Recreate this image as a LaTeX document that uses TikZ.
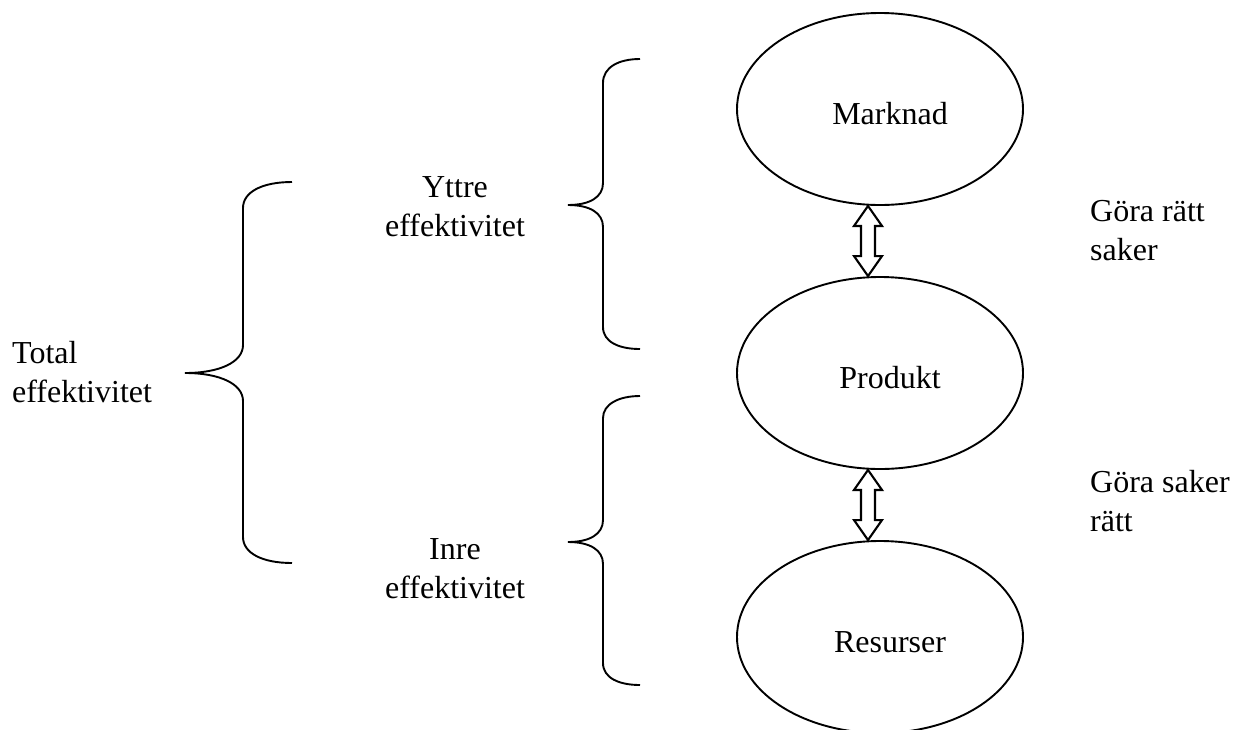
\documentclass[tikz,border=0pt]{standalone}
\usepackage{fontspec}
\setmainfont{Liberation Serif}
\usetikzlibrary{shapes.geometric,calc}

\tikzset{
  oval/.style={ellipse, draw, line width=1.9pt, minimum width=286pt, minimum height=192pt,
    inner sep=0pt, text height=30pt, text depth=0pt, execute at begin node=\hspace*{20pt}},
  brace/.style={line width=1.9pt},
  twoway/.style={draw, fill=white, line width=2.1pt, line join=miter},
  caption/.style={inner sep=0pt, align=left, anchor=west},
  heading/.style={inner sep=0pt, align=center},
}

% open double-headed arrow between two points stacked vertically
\newcommand\updown[2]{%
  \draw[twoway] (#1) -- ++(14,20) -- ++(-7,0) -- ($(#2)+(7,-20)$) -- ++(7,0) -- (#2)
    -- ++(-14,-20) -- ++(7,0) -- ($(#1)+(-7,20)$) -- ++(-7,0) -- cycle;}

\begin{document}
\begin{tikzpicture}[x=1pt, y=-1pt, font=\fontsize{32}{39}\selectfont]
\useasboundingbox (0,0) rectangle (1244,729);
\fill[white] (0,0) rectangle (1244,729);

% the three levels
\node[oval] (marknad) at (880,109) {Marknad};
\node[oval] (produkt) at (880,373) {Produkt};
\node[oval] (resurser) at (880,637) {Resurser};

\coordinate (a1) at ($(marknad.south)+(-12,0)$);
\coordinate (a2) at ($(produkt.north)+(-12,0)$);
\coordinate (b1) at ($(produkt.south)+(-12,0)$);
\coordinate (b2) at ($(resurser.north)+(-12,0)$);
\updown{a1}{a2}
\updown{b1}{b2}

% braces
\draw[brace] (292,182) .. controls (262,182) and (243,192) .. (243,208) -- (243,345)
  .. controls (243,362) and (220,373) .. (185,373)
  .. controls (220,373) and (243,384) .. (243,401) -- (243,537)
  .. controls (243,553) and (262,563) .. (292,563);
\draw[brace] (640,59) .. controls (619,59) and (603,67) .. (603,83) -- (603,183)
  .. controls (603,197) and (590,205) .. (568,205)
  .. controls (590,205) and (603,213) .. (603,227) -- (603,327)
  .. controls (603,342) and (619,349) .. (640,349);
\draw[brace] (640,396) .. controls (619,396) and (603,404) .. (603,418) -- (603,520)
  .. controls (603,534) and (590,542) .. (568,542)
  .. controls (590,542) and (603,550) .. (603,564) -- (603,663)
  .. controls (603,678) and (619,685) .. (640,685);

% texts
\node[caption] (total) at (12,372) {Total\\effektivitet};
\node[heading] (yttre) at (455,207) {Yttre\\effektivitet};
\node[heading] (inre) at (455,569) {Inre\\effektivitet};
\node[caption] (ratt) at (1090,231) {Göra rätt\\saker};
\node[caption] (saker) at (1090,501) {Göra saker\\rätt};
\end{tikzpicture}
\end{document}
